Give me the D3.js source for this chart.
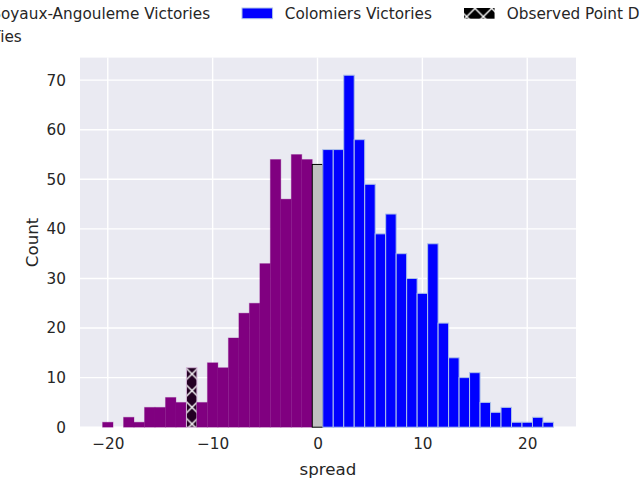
<!DOCTYPE html>
<html>
<head>
<meta charset="utf-8">
<script src="https://cdn.jsdelivr.net/npm/d3@7"></script>
<style>
  html, body { margin: 0; padding: 0; background: #fff; }
  svg { display: block; }
  text { font-family: "DejaVu Sans", sans-serif; fill: #262626; }
</style>
</head>
<body>
<svg id="chart" width="640" height="480"></svg>
<script>
// ---- data ----
const spreads = [-20,-19,-18,-17,-16,-15,-14,-13,-12,-11,-10,-9,-8,-7,-6,-5,-4,-3,-2,-1,0,1,2,3,4,5,6,7,8,9,10,11,12,13,14,15,16,17,18,19,20,21,22];
const counts  = [1,0,2,1,4,4,6,5,12,5,13,12,18,23,25,33,54,46,55,54,53,56,56,71,58,49,39,43,35,30,27,37,21,14,10,11,5,3,4,1,1,2,1];
const observedSpread = -12;
const xTicks = [-20,-10,0,10,20];
const yTicks = [0,10,20,30,40,50,60,70];
const legendLabels = ["Soyaux-Angouleme Victories", "Colomiers Victories", "Observed Point Differential", "Ties"];
const xLabel = "spread";
const yLabel = "Count";

// ---- layout ----
const W = 640, H = 480;
const m = {left: 80, right: 576, top: 57.6, bottom: 427.2};
const svg = d3.select("#chart");

const x = d3.scaleLinear().domain([-22.65, 24.65]).range([m.left, m.right]);
const y = d3.scaleLinear().domain([0, 74.55]).range([m.bottom, m.top]);

const colPurple = "#800080", colBlue = "#0000ff", colTie = "#c0c0c0";
const edgeBlue = "#aec2e8";

// hatch pattern (white X on dark)
const defs = svg.append("defs");
const hp = 100/6;
function addHatch(id, ox, oy, bg) {
  const p = defs.append("pattern").attr("id", id).attr("patternUnits", "userSpaceOnUse")
    .attr("width", hp).attr("height", hp).attr("x", ox).attr("y", oy);
  p.append("rect").attr("width", hp).attr("height", hp).attr("fill", bg);
  const g = p.append("g").attr("stroke", "#fff").attr("stroke-width", 1.4);
  g.append("line").attr("x1", -1).attr("y1", -1).attr("x2", hp+1).attr("y2", hp+1);
  g.append("line").attr("x1", -1).attr("y1", hp+1).attr("x2", hp+1).attr("y2", -1);
}
addHatch("hatchBar", 192 - hp/2, 374 - hp/2, "#230023");
addHatch("hatchLeg", 0, 0, "#000");

// background
svg.append("rect").attr("x", m.left).attr("y", m.top)
  .attr("width", m.right - m.left).attr("height", m.bottom - m.top).attr("fill", "#eaeaf2");

// grid
const grid = svg.append("g").attr("stroke", "#fff").attr("stroke-width", 1.4);
grid.selectAll(".gx").data(xTicks).join("line")
  .attr("x1", d => x(d)).attr("x2", d => x(d)).attr("y1", m.top).attr("y2", m.bottom);
grid.selectAll(".gy").data(yTicks).join("line")
  .attr("y1", d => y(d)).attr("y2", d => y(d)).attr("x1", m.left).attr("x2", m.right);

// bars
const data = spreads.map((s, i) => ({s, c: counts[i]})).filter(d => d.c > 0);
function fillOf(d) {
  if (d.s === observedSpread) return "url(#hatchBar)";
  if (d.s < 0) return colPurple;
  if (d.s > 0) return colBlue;
  return colTie;
}
function edgeOf(d) {
  if (d.s === 0) return "#000";
  if (d.s === observedSpread) return "#d4b6d8";
  if (d.s < 0) return colPurple;
  return edgeBlue;
}
svg.append("g").selectAll("rect").data(data).join("rect")
  .attr("x", d => x(d.s - 0.5))
  .attr("width", d => x(d.s + 0.5) - x(d.s - 0.5))
  .attr("y", d => y(d.c))
  .attr("height", d => y(0) - y(d.c))
  .attr("fill", fillOf)
  .attr("stroke", edgeOf)
  .attr("stroke-opacity", d => (d.s < 0 && d.s !== observedSpread) ? 0.3 : 1)
  .attr("stroke-width", 1);

// axes
const fmt = d => d < 0 ? "\u2212" + Math.abs(d) : String(d);
const xAxis = svg.append("g").attr("transform", `translate(0,${m.bottom})`)
  .call(d3.axisBottom(x).tickValues(xTicks).tickFormat(fmt).tickSize(0).tickPadding(11));
const yAxis = svg.append("g").attr("transform", `translate(${m.left},0)`)
  .call(d3.axisLeft(y).tickValues(yTicks).tickFormat(fmt).tickSize(0).tickPadding(14));
[xAxis, yAxis].forEach(a => {
  a.select(".domain").remove();
  a.selectAll("text").style("font-size", "15.28px").style("font-family", "DejaVu Sans").attr("fill", "#262626");
});

svg.append("text").attr("x", (m.left + m.right)/2).attr("y", 475)
  .attr("text-anchor", "middle").style("font-size", "16.67px").text(xLabel);
svg.append("text").attr("transform", `translate(38,${(m.top + m.bottom)/2}) rotate(-90)`)
  .attr("text-anchor", "middle").style("font-size", "16.67px").text(yLabel);

// legend (3 columns, overflows the figure like the original)
const fs = 15.28;
const colX = [-51.5, 242, 464];
const rowY = [18.5, 41.5];
const legendItems = [
  {label: legendLabels[0], fill: colPurple, stroke: "#cca4d0", col: 0, row: 0},
  {label: legendLabels[1], fill: colBlue, stroke: edgeBlue, col: 1, row: 0},
  {label: legendLabels[2], fill: "url(#hatchLeg)", stroke: "none", col: 2, row: 0},
  {label: legendLabels[3], fill: colTie, stroke: "#000", col: 0, row: 1}
];
const lg = svg.append("g");
legendItems.forEach(it => {
  const bx = colX[it.col], by = rowY[it.row];
  lg.append("rect").attr("x", bx).attr("y", by - 10.5).attr("width", 2*fs).attr("height", 0.7*fs)
    .attr("fill", it.fill).attr("stroke", it.stroke).attr("stroke-width", 1);
  lg.append("text").attr("x", bx + 2*fs + 0.8*fs).attr("y", by)
    .style("font-size", fs + "px").text(it.label);
});
</script>
</body>
</html>
